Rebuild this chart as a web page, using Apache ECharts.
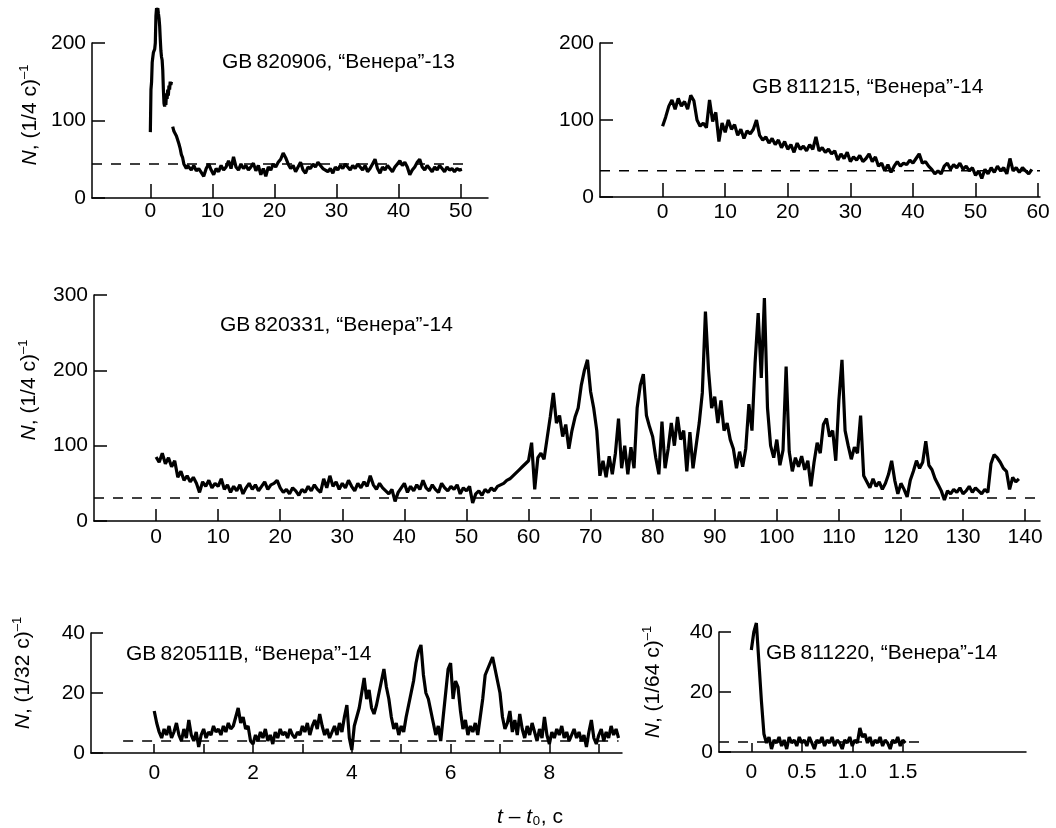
<!DOCTYPE html>
<html>
<head>
<meta charset="utf-8">
<title>Гамма-всплески, Венера-13/14</title>
<script src="https://cdn.jsdelivr.net/npm/echarts@6/dist/echarts.min.js"></script>
<style>
  html, body { margin: 0; padding: 0; background: #fff; }
  #main { width: 1056px; height: 828px; }
</style>
</head>
<body>
<div id="main"></div>
<script>
// ---- данные (отсчёты на бин) ----

// GB820906, "Венера"-13: вспышка (бин 0.1 с от t=0), спад (0.2 с от 3.6), хвост (0.4 с от 6.2)
var gb820906Burst = [85, 140, 150, 175, 182, 188, 190, 192, 200, 235,
  245, 240, 245, 238, 232, 222, 205, 190, 182, 178,
  165, 140, 122, 118, 125, 120, 135, 128, 140, 132,
  145, 140, 150, 146, 150];
var gb820906Decay = [92, 86, 88, 80, 78, 70, 64, 56, 52, 44, 46, 38, 42];
var gb820906Tail = [40, 36, 42, 35, 38, 33, 28, 38, 44, 36,
  30, 38, 34, 42, 36, 40, 48, 38, 53, 40,
  36, 44, 38, 42, 36, 40, 45, 35, 42, 30,
  38, 28, 40, 36, 44, 40, 46, 50, 58, 52,
  44, 38, 42, 34, 40, 46, 36, 32, 40, 38,
  44, 40, 46, 42, 38, 36, 34, 38, 32, 40,
  36, 42, 38, 44, 40, 36, 42, 38, 44, 40,
  36, 42, 34, 38, 44, 50, 38, 32, 40, 36,
  42, 38, 34, 40, 44, 48, 42, 46, 40, 30,
  36, 40, 46, 50, 40, 36, 42, 38, 34, 40,
  36, 42, 38, 34, 40, 36, 38, 34, 38, 36,
  37];
var gb820906Bg = 44;

// GB811215, "Венера"-14: бин 0.5 с от t=0
var gb811215 = [92, 104, 118, 126, 114, 128, 118, 124, 114, 132,
  125, 100, 92, 96, 90, 126, 98, 110, 72, 96,
  84, 100, 88, 94, 80, 88, 76, 86, 82, 88,
  100, 80, 74, 78, 70, 76, 68, 74, 64, 72,
  62, 68, 58, 70, 62, 66, 60, 68, 62, 78,
  60, 64, 58, 62, 56, 60, 48, 56, 50, 58,
  46, 52, 48, 54, 46, 50, 56, 46, 52, 40,
  44, 34, 42, 32, 40, 46, 40, 44, 42, 48,
  44, 50, 56, 44, 46, 40, 36, 30, 34, 30,
  40, 44, 36, 42, 38, 44, 36, 40, 34, 38,
  28, 34, 24, 36, 30, 38, 32, 40, 34, 38,
  30, 50, 34, 38, 32, 38, 34, 30, 36];
var gb811215Bg = 34;

// GB820331, "Венера"-14: бин 0.5 с от t=0
var gb820331 = [85, 78, 90, 76, 84, 72, 80, 58, 66, 54,
  60, 52, 58, 50, 38, 52, 46, 54, 44, 50,
  46, 56, 42, 48, 38, 46, 40, 48, 36, 44,
  50, 42, 48, 40, 46, 52, 42, 48, 50, 54,
  44, 38, 42, 36, 44, 40, 34, 42, 38, 46,
  40, 48, 42, 38, 56, 44, 60, 46, 52, 42,
  50, 44, 54, 46, 40, 50, 44, 52, 46, 60,
  48, 42, 50, 44, 40, 36, 42, 26, 38, 44,
  50, 38, 46, 40, 48, 42, 54, 44, 40, 48,
  42, 38, 50, 44, 40, 46, 42, 48, 36, 44,
  40, 46, 24, 36, 40, 34, 42, 38, 44, 40,
  46, 48, 50, 54, 56, 60, 64, 68, 72, 76,
  80, 104, 42, 84, 90, 82, 110, 138, 170, 130,
  140, 112, 128, 96, 120, 138, 150, 180, 200, 214,
  172, 150, 120, 60, 80, 58, 86, 62, 90, 136,
  70, 100, 62, 98, 70, 150, 180, 195, 140, 125,
  112, 84, 62, 132, 70, 96, 130, 100, 138, 108,
  120, 66, 118, 70, 100, 130, 170, 278, 200, 150,
  165, 130, 160, 120, 130, 108, 96, 70, 92, 72,
  96, 155, 120, 210, 276, 190, 296, 150, 100, 84,
  108, 74, 94, 205, 92, 66, 84, 72, 86, 68,
  80, 46, 78, 104, 90, 128, 136, 112, 120, 80,
  160, 214, 120, 100, 82, 98, 90, 140, 60, 52,
  44, 56, 46, 52, 42, 50, 62, 80, 54, 36,
  50, 42, 32, 54, 66, 80, 70, 78, 106, 74,
  68, 56, 48, 40, 28, 40, 36, 42, 38, 44,
  36, 40, 46, 38, 44, 40, 36, 42, 38, 76,
  88, 84, 78, 70, 66, 42, 58, 52, 56];
var gb820331Bg = 30.5;

// GB820511B, "Венера"-14: бин 0.05 с от t=0
var gb820511b = [14, 10, 7, 5, 8, 6, 9, 5, 7, 10, 6, 4, 8, 5, 11, 6, 4, 7, 2, 6,
  8, 5, 7, 6, 9, 7, 8, 6, 9, 7, 10, 8, 9, 12, 15, 10, 12, 8, 9, 4,
  3, 6, 4, 7, 5, 8, 4, 6, 3, 7, 5, 8, 6, 7, 5, 8, 6, 5, 7, 6,
  9, 7, 10, 6, 9, 11, 8, 13, 9, 6, 8, 5, 7, 9, 6, 10, 7, 12, 16, 5,
  1, 9, 12, 15, 20, 25, 18, 21, 15, 13, 16, 20, 24, 28, 22, 18, 12, 8, 10, 6,
  9, 7, 12, 16, 20, 24, 30, 34, 36, 26, 20, 18, 14, 10, 6, 9, 4, 12, 20, 28,
  30, 18, 24, 22, 14, 8, 11, 6, 9, 7, 10, 6, 12, 18, 26, 28, 30, 32, 28, 24,
  20, 12, 8, 10, 14, 7, 11, 6, 13, 8, 5, 9, 6, 10, 7, 4, 8, 5, 12, 6,
  3, 7, 5, 8, 6, 9, 5, 7, 4, 6, 8, 5, 7, 4, 6, 2, 7, 11, 5, 3,
  6, 8, 4, 7, 5, 9, 6, 8, 5];
var gb820511bBg = 4;

// GB811220, "Венера"-14: бин 0.025 с от t=0
var gb811220 = [34, 40, 43, 30, 17, 6, 3, 5, 1, 4,
  3, 5, 2, 4, 1, 5, 3, 4, 2, 5,
  3, 4, 2, 5, 3, 1, 4, 3, 5, 2,
  4, 3, 5, 2, 4, 3, 1, 4, 3, 5,
  2, 4, 3, 8, 5, 6, 3, 5, 2, 4,
  3, 5, 2, 4, 3, 1, 4, 3, 5, 2,
  4, 3];
var gb811220Bg = 3.3;

var FONT = "'Liberation Sans', Arial, Helvetica, sans-serif";

// [t, N] из начала, шага бина и отсчётов
function binned(t0, dt, vals) {
  return vals.map(function (v, i) { return [+(t0 + i * dt).toFixed(4), v]; });
}

var trace0 = binned(0, 0.1, gb820906Burst)
  .concat([[3.5, null]])
  .concat(binned(3.6, 0.2, gb820906Decay))
  .concat(binned(6.2, 0.4, gb820906Tail));

function xAxisCfg(grid, min, max, ticks, labels, tickLen, margin, fmt) {
  return {
    gridIndex: grid, type: 'value', min: min, max: max,
    axisLine: { show: true, onZero: false, lineStyle: { color: '#000', width: 1.5 } },
    axisTick: { show: true, inside: true, length: tickLen, customValues: ticks,
      lineStyle: { color: '#000', width: 1.5 } },
    axisLabel: { customValues: labels, color: '#000', fontSize: 21, fontFamily: FONT,
      margin: margin, formatter: fmt || function (v) { return String(v); } },
    splitLine: { show: false }
  };
}
function yAxisCfg(grid, max, step, tickLen) {
  return {
    gridIndex: grid, type: 'value', min: 0, max: max, interval: step,
    axisLine: { show: true, onZero: false, lineStyle: { color: '#000', width: 1.5 } },
    axisTick: { show: true, inside: true, length: tickLen, lineStyle: { color: '#000', width: 1.5 } },
    axisLabel: { color: '#000', fontSize: 21, fontFamily: FONT, margin: 6 },
    splitLine: { show: false }
  };
}
function traceSeries(i, data) {
  return {
    type: 'line', xAxisIndex: i, yAxisIndex: i, data: data,
    symbol: 'none', clip: false, z: 3,
    lineStyle: { color: '#000', width: 3.2, join: 'bevel' }
  };
}
function bgSeries(i, x0, x1, level) {
  return {
    type: 'line', xAxisIndex: i, yAxisIndex: i, data: [[x0, level], [x1, level]],
    symbol: 'none', z: 2, silent: true,
    lineStyle: { color: '#000', width: 1.5, type: [10, 9] }
  };
}
function label(x, y, text) {
  return { type: 'text', x: x, y: y, style: { text: text, font: '21px ' + FONT,
    fill: '#000', textAlign: 'left', textVerticalAlign: 'middle' } };
}
function yName(x, y, unit) {
  return { type: 'text', x: x, y: y, rotation: Math.PI / 2,
    style: { text: '{it|N}, (' + unit + ' c){sup|–1}', fill: '#000',
      textAlign: 'center', textVerticalAlign: 'middle', font: '21px ' + FONT,
      rich: {
        it: { fontStyle: 'italic', fontSize: 21, fontFamily: FONT, lineHeight: 24 },
        sup: { fontSize: 13, fontFamily: FONT, verticalAlign: 'top', lineHeight: 24 }
      } } };
}

var myChart = echarts.init(document.getElementById('main'));
var option = {
  animation: false,
  backgroundColor: '#fff',
  grid: [
    { left: 92, top: 43, width: 396, height: 155, outerBoundsMode: 'none' },
    { left: 600, top: 43, width: 440, height: 154, outerBoundsMode: 'none' },
    { left: 94, top: 295, width: 946, height: 226, outerBoundsMode: 'none' },
    { left: 91, top: 633, width: 531, height: 120, outerBoundsMode: 'none' },
    { left: 719, top: 632, width: 307, height: 120, outerBoundsMode: 'none' }
  ],
  xAxis: [
    xAxisCfg(0, -9.4, 54.4, [0, 10, 20, 30, 40, 50], [0, 10, 20, 30, 40, 50], 14, 3),
    xAxisCfg(1, -10, 60.3, [0, 10, 20, 30, 40, 50, 60], [0, 10, 20, 30, 40, 50, 60], 14, 5),
    xAxisCfg(2, -10, 142.4, [0, 10, 20, 30, 40, 50, 60, 70, 80, 90, 100, 110, 120, 130, 140],
      [0, 10, 20, 30, 40, 50, 60, 70, 80, 90, 100, 110, 120, 130, 140], 12, 6),
    xAxisCfg(3, -1.28, 9.47, [0, 1, 2, 3, 4, 5, 6, 7, 8, 9], [0, 2, 4, 6, 8], 9, 10),
    xAxisCfg(4, -0.32, 2.72, [0, 0.5, 1, 1.5], [0, 0.5, 1, 1.5], 9, 10,
      function (v) { return v === 0 ? '0' : v.toFixed(1); })
  ],
  yAxis: [
    yAxisCfg(0, 200, 100, 13),
    yAxisCfg(1, 200, 100, 13),
    yAxisCfg(2, 300, 100, 13),
    yAxisCfg(3, 40, 20, 12),
    yAxisCfg(4, 40, 20, 12)
  ],
  series: [
    bgSeries(0, -9.4, 51.5, gb820906Bg),
    traceSeries(0, trace0),
    bgSeries(1, -10, 60.3, gb811215Bg),
    traceSeries(1, binned(0, 0.5, gb811215)),
    bgSeries(2, -10, 142.4, gb820331Bg),
    traceSeries(2, binned(0, 0.5, gb820331)),
    bgSeries(3, -0.63, 9.4, gb820511bBg),
    traceSeries(3, binned(0, 0.05, gb820511b)),
    bgSeries(4, -0.32, 1.67, gb811220Bg),
    traceSeries(4, binned(0, 0.025, gb811220))
  ],
  graphic: [
    label(222, 62, 'GB\u2009820906, “Венера”-13'),
    label(752, 87, 'GB\u2009811215, “Венера”-14'),
    label(220, 325, 'GB\u2009820331, “Венера”-14'),
    label(126, 654, 'GB\u2009820511B, “Венера”-14'),
    label(766, 653, 'GB\u2009811220, “Венера”-14'),
    yName(30, 115, '1/4'),
    yName(29, 390, '1/4'),
    yName(23, 673, '1/32'),
    yName(653, 682, '1/64'),
    { type: 'text', x: 530, y: 817,
      style: { text: '{it|t} – {it|t}₀, c', fill: '#000', textAlign: 'center',
        textVerticalAlign: 'middle', font: '21px ' + FONT,
        rich: { it: { fontStyle: 'italic', fontSize: 21, fontFamily: FONT } } } }
  ]
};
myChart.setOption(option);
</script>
</body>
</html>
